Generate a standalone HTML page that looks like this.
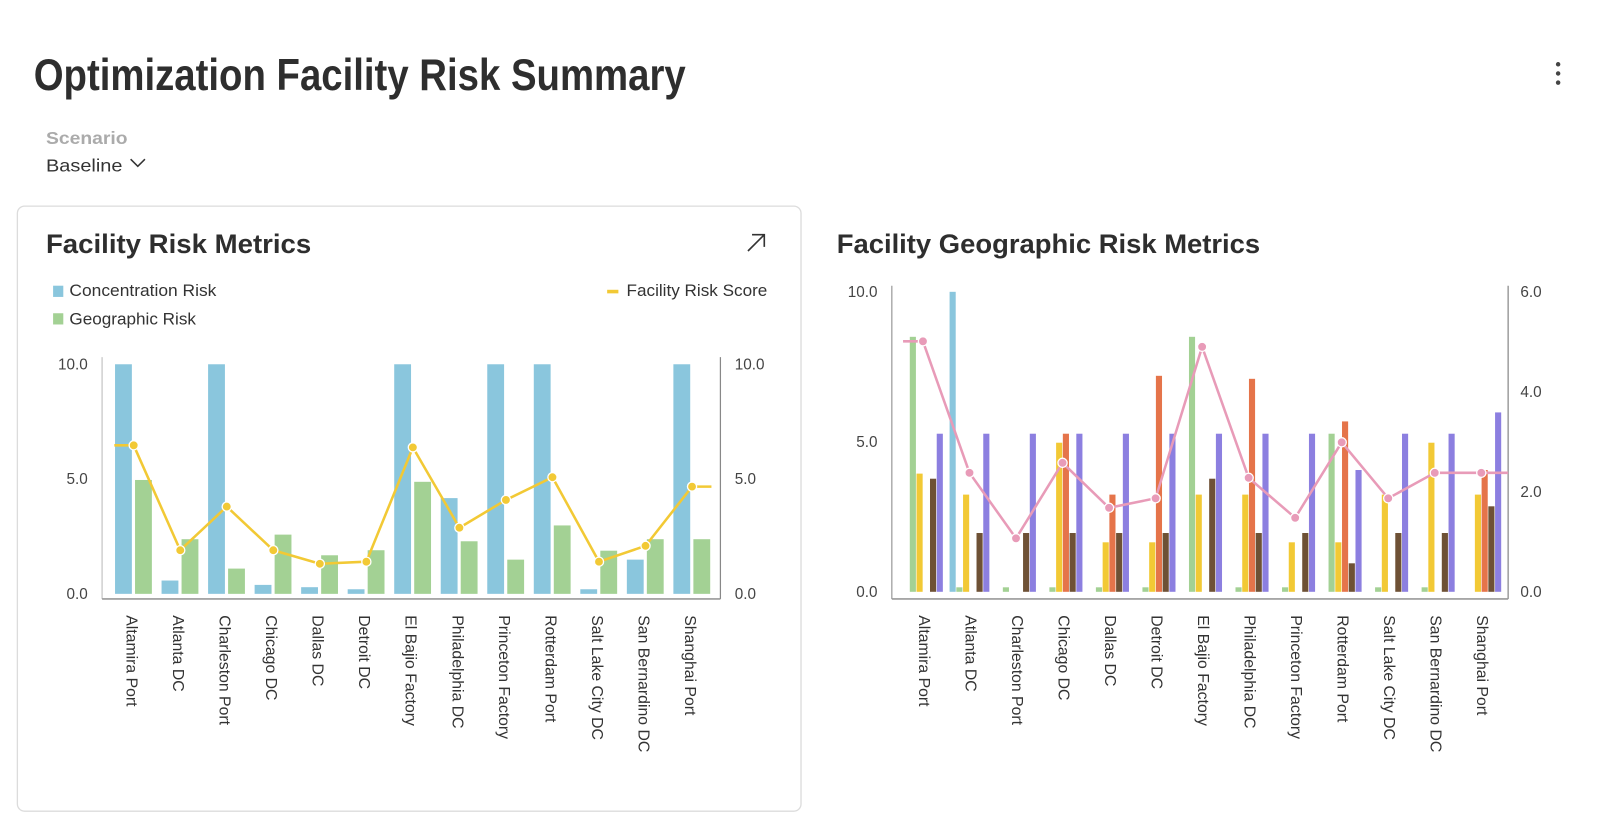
<!DOCTYPE html>
<html><head><meta charset="utf-8"><style>
html,body{margin:0;padding:0;background:#fff;width:1600px;height:822px;overflow:hidden}
svg{display:block;font-family:"Liberation Sans",Arial,sans-serif}
</style></head><body>
<svg id="root" width="1600" height="822" viewBox="0 0 1568 805.6" xmlns="http://www.w3.org/2000/svg">
<text x="33" y="88" font-size="44" font-weight="bold" fill="#2e2e2e" textLength="639" lengthAdjust="spacingAndGlyphs">Optimization Facility Risk Summary</text>
<g fill="#444"><circle cx="1527" cy="63" r="2.2"/><circle cx="1527" cy="72" r="2.2"/><circle cx="1527" cy="81" r="2.2"/></g>
<text x="45" y="141" font-size="17" font-weight="bold" fill="#ababab" textLength="80" lengthAdjust="spacingAndGlyphs">Scenario</text>
<g>
<text x="45" y="168" font-size="17" fill="#333" textLength="75" lengthAdjust="spacingAndGlyphs">Baseline</text>
<polyline points="128,156 135,163 142,156" fill="none" stroke="#333" stroke-width="1.5"/>
</g>
<rect x="17" y="202" width="768" height="593" rx="7" fill="#fff" stroke="#dcdcdc" stroke-width="1.3"/>
<text x="45" y="248" font-size="26" font-weight="bold" fill="#2e2e2e" textLength="260" lengthAdjust="spacingAndGlyphs">Facility Risk Metrics</text>
<g stroke="#333" stroke-width="1.6" fill="none"><line x1="733" y1="246" x2="749" y2="230"/><polyline points="737,230 749,230 749,242"/></g>
<text x="820" y="248" font-size="26" font-weight="bold" fill="#2e2e2e" textLength="415" lengthAdjust="spacingAndGlyphs">Facility Geographic Risk Metrics</text>
<g><rect x="52" y="280" width="10" height="11" fill="#8ac6dd"/><text x="68" y="290" font-size="16" fill="#333" textLength="144" lengthAdjust="spacingAndGlyphs">Concentration Risk</text></g>
<g><rect x="52" y="307" width="10" height="11" fill="#a3d194"/><text x="68" y="318" font-size="16" fill="#333" textLength="124" lengthAdjust="spacingAndGlyphs">Geographic Risk</text></g>
<g><rect x="595" y="284" width="11" height="3.5" fill="#f2c935"/><text x="614" y="290" font-size="16" fill="#333" textLength="138" lengthAdjust="spacingAndGlyphs">Facility Risk Score</text></g>
<g id="left"></g>
<g id="right"></g>
</svg>
<script>
const categories = ["Altamira Port","Atlanta DC","Charleston Port","Chicago DC","Dallas DC","Detroit DC","El Bajio Factory","Philadelphia DC","Princeton Factory","Rotterdam Port","Salt Lake City DC","San Bernardino DC","Shanghai Port"];
const concentrationRisk = [10, 0.58, 10, 0.39, 0.29, 0.2, 10, 4.17, 10, 10, 0.2, 1.49, 10];
const geographicRisk = [4.96, 2.38, 1.1, 2.58, 1.68, 1.9, 4.88, 2.29, 1.49, 2.98, 1.88, 2.38, 2.38];
const facilityRiskScore = [6.47, 1.9, 3.8, 1.9, 1.31, 1.4, 6.38, 2.88, 4.09, 5.08, 1.4, 2.09, 4.67];
const leftTicks = ["0.0","5.0","10.0"];
const leftTickValues = [0, 5, 10];

const geoSeriesA = [0, 10, 0, 0, 0, 0, 0, 0, 0, 0, 0, 0, 0];
const geoSeriesB = [8.5, 0.15, 0.15, 0.15, 0.15, 0.15, 8.5, 0.15, 0.15, 5.27, 0.15, 0.15, 0];
const geoSeriesC = [3.94, 3.24, 0, 4.97, 1.65, 1.65, 3.24, 3.24, 1.65, 1.65, 3.24, 4.97, 3.24];
const geoSeriesD = [0, 0, 0, 5.27, 3.24, 7.2, 0, 7.1, 0, 5.68, 0, 0, 4.06];
const geoSeriesE = [3.77, 1.96, 1.96, 1.96, 1.96, 1.96, 3.77, 1.96, 1.96, 0.95, 1.96, 1.96, 2.85];
const geoSeriesF = [5.27, 5.27, 5.27, 5.27, 5.27, 5.27, 5.27, 5.27, 5.27, 4.06, 5.27, 5.27, 5.98];
const geoScore = [5.01, 2.38, 1.07, 2.58, 1.68, 1.87, 4.9, 2.28, 1.48, 2.99, 1.87, 2.38, 2.38];
const rightLeftTicks = ["0.0","5.0","10.0"];
const rightLeftTickValues = [0, 5, 10];
const rightRightTicks = ["0.0","2.0","4.0","6.0"];
const rightRightTickValues = [0, 2, 4, 6];

const NS = "http://www.w3.org/2000/svg";
function mk(parent, tag, attrs, text) {
  const el = document.createElementNS(NS, tag);
  for (const k in attrs) el.setAttribute(k, attrs[k]);
  if (text !== undefined) el.textContent = text;
  parent.appendChild(el);
  return el;
}

// LEFT CHART
(function(){
  const g = document.getElementById('left');
  const x0 = 100, x1 = 706, yBase = 582, yTop = 357;
  const xc = i => 131 + 45.6 * i;
  const y = v => yBase - (yBase - yTop) * v / 10;
  const yR = v => yBase - (yBase - yTop) * v / 10;
  let a;
  a = mk(g, 'line', {x1:x0, y1:350, x2:x0, y2:587, stroke:'#c4c4c4', 'stroke-width':1.2});
   
  a = mk(g, 'line', {x1:x1, y1:350, x2:x1, y2:587, stroke:'#888', 'stroke-width':1.2});
   
  a = mk(g, 'line', {x1:x0, y1:587, x2:x1, y2:587, stroke:'#999', 'stroke-width':1.5});
   
  leftTickValues.forEach((v, i) => {
    let t = mk(g, 'text', {x:86, y:y(v)+5, 'font-size':15, fill:'#444', 'text-anchor':'end'}, leftTicks[i]);
     
    t = mk(g, 'text', {x:720, y:yR(v)+5, 'font-size':15, fill:'#444'}, leftTicks[i]);
     
  });
  categories.forEach((c, i) => {
    let r = mk(g, 'rect', {x:xc(i)-18.3, y:y(concentrationRisk[i]), width:16.5, height:yBase-y(concentrationRisk[i]), fill:'#8ac6dd'});
     
    r = mk(g, 'rect', {x:xc(i)+1.3, y:y(geographicRisk[i]), width:16.5, height:yBase-y(geographicRisk[i]), fill:'#a3d194'});
     
    const t = mk(g, 'text', {transform:`translate(${xc(i)-2},603) rotate(90)`, y:5, 'font-size':15.5, fill:'#333'}, c);
     
  });
  const n = categories.length;
  let pts = [[xc(0)-19, yR(facilityRiskScore[0])]];
  facilityRiskScore.forEach((v, i) => pts.push([xc(i), yR(v)]));
  pts.push([xc(n-1)+19, yR(facilityRiskScore[n-1])]);
  const p = mk(g, 'polyline', {points:pts.map(q=>q.join(',')).join(' '), fill:'none', stroke:'#f2c935', 'stroke-width':2.5, 'stroke-linejoin':'round'});
   
  facilityRiskScore.forEach((v, i) => {
    const m = mk(g, 'circle', {cx:xc(i), cy:yR(v), r:4.5, fill:'#f2c935', stroke:'#fff', 'stroke-width':1.3});
     
  });
})();

// RIGHT CHART
(function(){
  const g = document.getElementById('right');
  const x0 = 874, x1 = 1478, yBase = 580, yTop = 286;
  const xc = i => 904.5 + 45.6 * i;
  const y = v => yBase - (yBase - yTop) * v / 10;
  const yR = v => yBase - (yBase - yTop) * v / 6;
  let a;
  a = mk(g, 'line', {x1:x0, y1:280, x2:x0, y2:587, stroke:'#999', 'stroke-width':1.2});
   
  a = mk(g, 'line', {x1:x1, y1:280, x2:x1, y2:587, stroke:'#888', 'stroke-width':1.2});
   
  a = mk(g, 'line', {x1:x0, y1:587, x2:x1, y2:587, stroke:'#999', 'stroke-width':1.5});
   
  rightLeftTickValues.forEach((v, i) => {
    const t = mk(g, 'text', {x:860, y:y(v)+5, 'font-size':15, fill:'#444', 'text-anchor':'end'}, rightLeftTicks[i]);
     
  });
  rightRightTickValues.forEach((v, i) => {
    const t = mk(g, 'text', {x:1490, y:yR(v)+5, 'font-size':15, fill:'#444'}, rightRightTicks[i]);
     
  });
  const series = [geoSeriesA, geoSeriesB, geoSeriesC, geoSeriesD, geoSeriesE, geoSeriesF];
  const colors = ['#8ac6dd','#a3d194','#f2c935','#e5744a','#6e5135','#8c7fe0'];
  const names = ['bar-series-a','bar-series-b','bar-series-c','bar-series-d','bar-series-e','bar-series-f'];
  categories.forEach((c, i) => {
    series.forEach((s, k) => {
      if (s[i] <= 0) return;
      const r = mk(g, 'rect', {x:xc(i)-19.5+6.6*k, y:y(s[i]), width:6, height:yBase-y(s[i]), fill:colors[k]});
      
      
    });
    const t = mk(g, 'text', {transform:`translate(${xc(i)+1},603) rotate(90)`, y:5, 'font-size':15.5, fill:'#333'}, c);
     
  });
  const n = categories.length;
  let pts = [[x0+11, yR(geoScore[0])]];
  geoScore.forEach((v, i) => pts.push([xc(i), yR(v)]));
  pts.push([x1, yR(geoScore[n-1])]);
  const p = mk(g, 'polyline', {points:pts.map(q=>q.join(',')).join(' '), fill:'none', stroke:'#e89bb8', 'stroke-width':2.5, 'stroke-linejoin':'round'});
   
  geoScore.forEach((v, i) => {
    const m = mk(g, 'circle', {cx:xc(i), cy:yR(v), r:4.5, fill:'#e89bb8', stroke:'#fff', 'stroke-width':1.3});
     
  });
})();
</script>
</body></html>
